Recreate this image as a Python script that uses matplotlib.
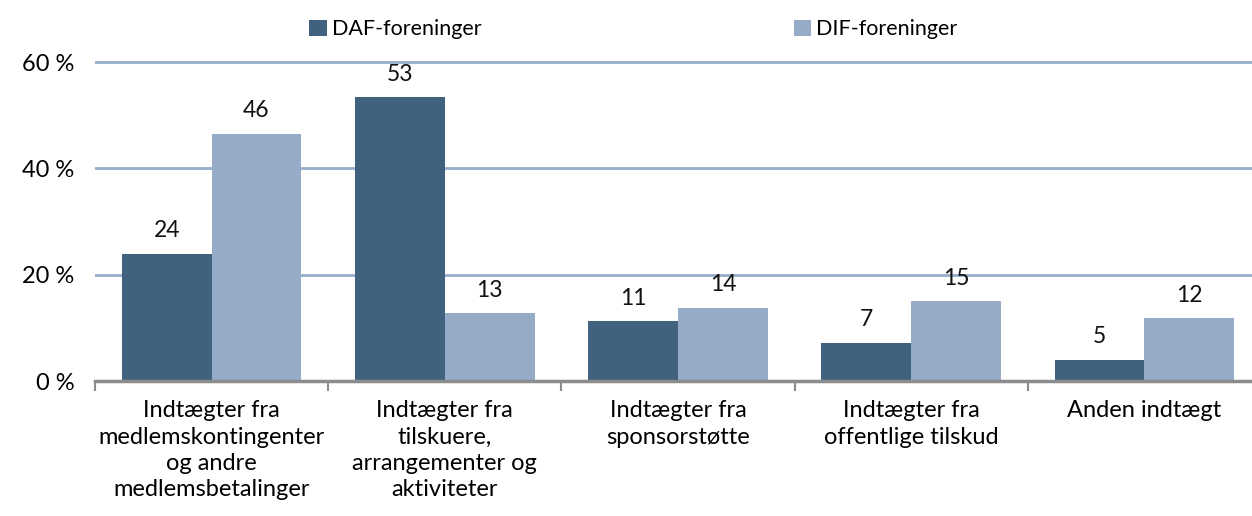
import matplotlib.pyplot as plt
import numpy as np

categories = ['Indtægter fra\nmedlemskontingenter\nog andre\nmedlemsbetalinger',
              'Indtægter fra\ntilskuere,\narrangementer og\naktiviteter',
              'Indtægter fra\nsponsorstøtte',
              'Indtægter fra\noffentlige tilskud',
              'Anden indtægt']

daf = [23.9, 53.4, 11.2, 7.2, 4.0]
dif = [46.5, 12.7, 13.8, 15.0, 11.8]
daf_labels = ['24', '53', '11', '7', '5']
dif_labels = ['46', '13', '14', '15', '12']

c_daf = '#41627E'
c_dif = '#95ABC8'

plt.rcParams['font.family'] = ['Lato', 'DejaVu Sans']

fig = plt.figure(figsize=(12.52, 5.16), dpi=100)
ax = fig.add_axes([0.0759, 0.2616, 0.9313, 0.6182 * 61 / 60])

x = np.arange(len(categories))
w = 0.385
b1 = ax.bar(x - w / 2, daf, w, color=c_daf, label='DAF-foreninger', zorder=3)
b2 = ax.bar(x + w / 2, dif, w, color=c_dif, label='DIF-foreninger', zorder=3)

for rects, labs in ((b1, daf_labels), (b2, dif_labels)):
    for r, t in zip(rects, labs):
        ax.annotate(t, xy=(r.get_x() + r.get_width() / 2, r.get_height()),
                    xytext=(0, 9), textcoords='offset points',
                    ha='center', va='bottom', fontsize=16.5, color='#111111')

ax.set_xlim(-0.5, len(categories) - 0.5)
ax.set_ylim(0, 61)
ax.set_yticks([0, 20, 40, 60])
ax.set_yticklabels(['0 %', '20 %', '40 %', '60 %'], fontsize=17)
ax.yaxis.grid(True, color='#95AECB', linewidth=2, zorder=0)
ax.tick_params(axis='y', length=0, pad=15)

ax.set_xticks(x)
ax.set_xticklabels(categories, fontsize=17, linespacing=1.3, va='top')
ax.tick_params(axis='x', length=0, pad=14)
ax.set_xticks(np.arange(len(categories) + 1) - 0.5, minor=True)
ax.tick_params(axis='x', which='minor', length=7, width=1.5, color='#8C8C8C')

for s in ('top', 'right', 'left'):
    ax.spines[s].set_visible(False)
ax.spines['bottom'].set_color('#8C8C8C')
ax.spines['bottom'].set_linewidth(2.5)
ax.spines['bottom'].set_zorder(4)

fig.legend(loc='upper center', bbox_to_anchor=(0.506, 1.0), ncol=2, frameon=False,
           fontsize=15.5, handlelength=0.8, handleheight=0.8, handletextpad=0.25,
           columnspacing=14.5)

fig.savefig('out.png', dpi=100)
